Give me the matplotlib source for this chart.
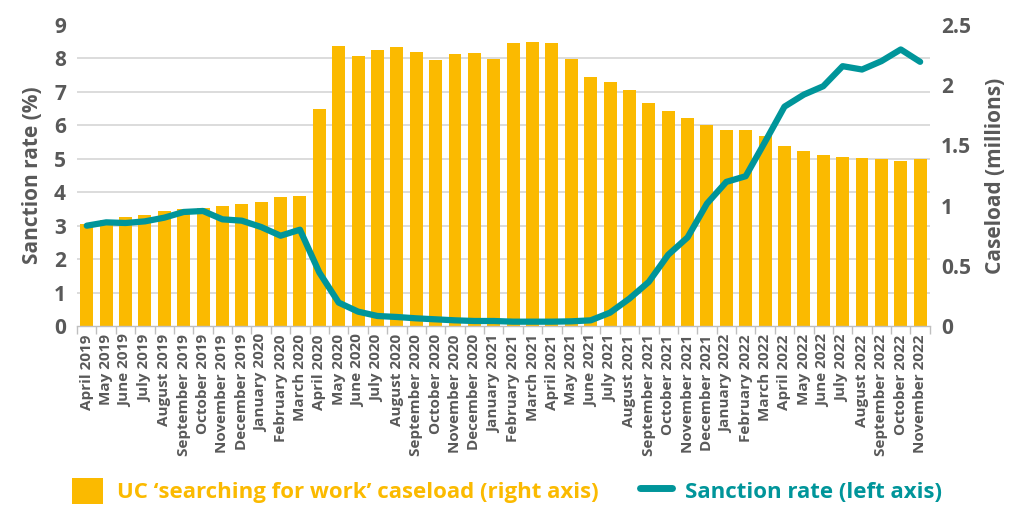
import matplotlib
matplotlib.use("Agg")
import matplotlib.pyplot as plt
import numpy as np
from matplotlib.lines import Line2D
from matplotlib.patches import Patch

months = ["April 2019", "May 2019", "June 2019", "July 2019", "August 2019", "September 2019",
          "October 2019", "November 2019", "December 2019", "January 2020", "February 2020",
          "March 2020", "April 2020", "May 2020", "June 2020", "July 2020", "August 2020",
          "September 2020", "October 2020", "November 2020", "December 2020", "January 2021",
          "February 2021", "March 2021", "April 2021", "May 2021", "June 2021", "July 2021",
          "August 2021", "September 2021", "October 2021", "November 2021", "December 2021",
          "January 2022", "February 2022", "March 2022", "April 2022", "May 2022", "June 2022",
          "July 2022", "August 2022", "September 2022", "October 2022", "November 2022"]

caseload = [0.85, 0.88, 0.905, 0.925, 0.952, 0.97, 0.983, 1.00, 1.013, 1.03, 1.07, 1.08,
            1.80, 2.325, 2.24, 2.29, 2.317, 2.28, 2.21, 2.256, 2.264, 2.22, 2.35, 2.36,
            2.35, 2.22, 2.07, 2.03, 1.96, 1.855, 1.79, 1.73, 1.67, 1.63, 1.63, 1.58,
            1.495, 1.454, 1.42, 1.40, 1.395, 1.385, 1.37, 1.385]

sanction = [3.0, 3.1, 3.08, 3.13, 3.24, 3.41, 3.44, 3.19, 3.15, 2.96, 2.7, 2.88,
            1.6, 0.7, 0.43, 0.3, 0.27, 0.23, 0.2, 0.17, 0.15, 0.15, 0.13, 0.13,
            0.13, 0.14, 0.17, 0.4, 0.82, 1.32, 2.13, 2.65, 3.66, 4.31, 4.48, 5.51,
            6.56, 6.92, 7.17, 7.77, 7.67, 7.92, 8.27, 7.9]

left_ticks = [0, 1, 2, 3, 4, 5, 6, 7, 8, 9]
right_ticks = [0, 0.5, 1, 1.5, 2, 2.5]
right_ticklabels = ["0", "0.5", "1", "1.5", "2", "2.5"]

YEL = "#FBBA00"
TEAL = "#00959A"
GREY = "#595959"
GRID = "#d9d9d9"

plt.rcParams['font.family'] = ['Open Sans', 'DejaVu Sans']

fig = plt.figure(figsize=(10.14, 5.11), dpi=100)
axb = fig.add_axes([0.076, 0.362, 0.841, 0.589])
axl = axb.twinx()

x = np.arange(len(months))
axb.bar(x, caseload, width=0.67, color=YEL, zorder=2)
axb.set_ylim(0, 2.5)
axb.set_xlim(-0.5, len(months) - 0.5)

# gridlines aligned to left-axis ticks, drawn behind bars
axb.set_yticks([v * 2.5 / 9 for v in left_ticks], minor=True)
axb.yaxis.grid(True, which='minor', color=GRID, lw=1.3, zorder=0)
axb.tick_params(axis='y', which='minor', length=0)
axb.set_axisbelow(True)

axb.yaxis.tick_right()
axb.yaxis.set_label_position('right')
axb.set_yticks(right_ticks, right_ticklabels)
axb.tick_params(axis='y', which='major', length=0, labelsize=15, labelcolor=GREY, pad=8)
axb.set_ylabel("Caseload (millions)", fontsize=15, color=GREY, fontweight='bold', labelpad=10)

axb.set_xticks(x, months, rotation=90)
axb.set_xticks(np.arange(-0.5, len(months), 1), minor=True)
axb.tick_params(axis='x', which='major', length=0, labelsize=11, labelcolor=GREY, pad=6)
axb.tick_params(axis='x', which='minor', length=6, color="#bfbfbf", width=1)

for lab in axb.get_xticklabels() + axb.get_yticklabels():
    lab.set_fontweight('bold')

axl.plot(x, sanction, color=TEAL, lw=4.5, solid_capstyle='round', solid_joinstyle='round', zorder=3)
axl.set_ylim(0, 9)
axl.yaxis.tick_left()
axl.yaxis.set_label_position('left')
axl.set_yticks(left_ticks)
axl.tick_params(axis='y', length=0, labelsize=15, labelcolor=GREY, pad=8)
for lab in axl.get_yticklabels():
    lab.set_fontweight('bold')
axl.set_ylabel("Sanction rate (%)", fontsize=15, color=GREY, fontweight='bold', labelpad=8)

for ax in (axb, axl):
    for s in ['top', 'left', 'right']:
        ax.spines[s].set_visible(False)
axl.spines['bottom'].set_visible(False)
axb.spines['bottom'].set_color("#bfbfbf")
axb.spines['bottom'].set_linewidth(1)

handles = [Patch(facecolor=YEL, edgecolor='none'),
           Line2D([0], [0], color=TEAL, lw=5, solid_capstyle='round')]
labels = ["UC \u2018searching for work\u2019 caseload (right axis)", "Sanction rate (left axis)"]
leg = fig.legend(handles, labels, loc='lower center', bbox_to_anchor=(0.5, -0.025), ncol=2,
                 frameon=False, fontsize=16, handlelength=1.4, handleheight=1.4,
                 columnspacing=1.9, handletextpad=0.6)
for t, c in zip(leg.get_texts(), [YEL, TEAL]):
    t.set_color(c)
    t.set_fontweight('bold')

fig.savefig("out.png", dpi=100)
